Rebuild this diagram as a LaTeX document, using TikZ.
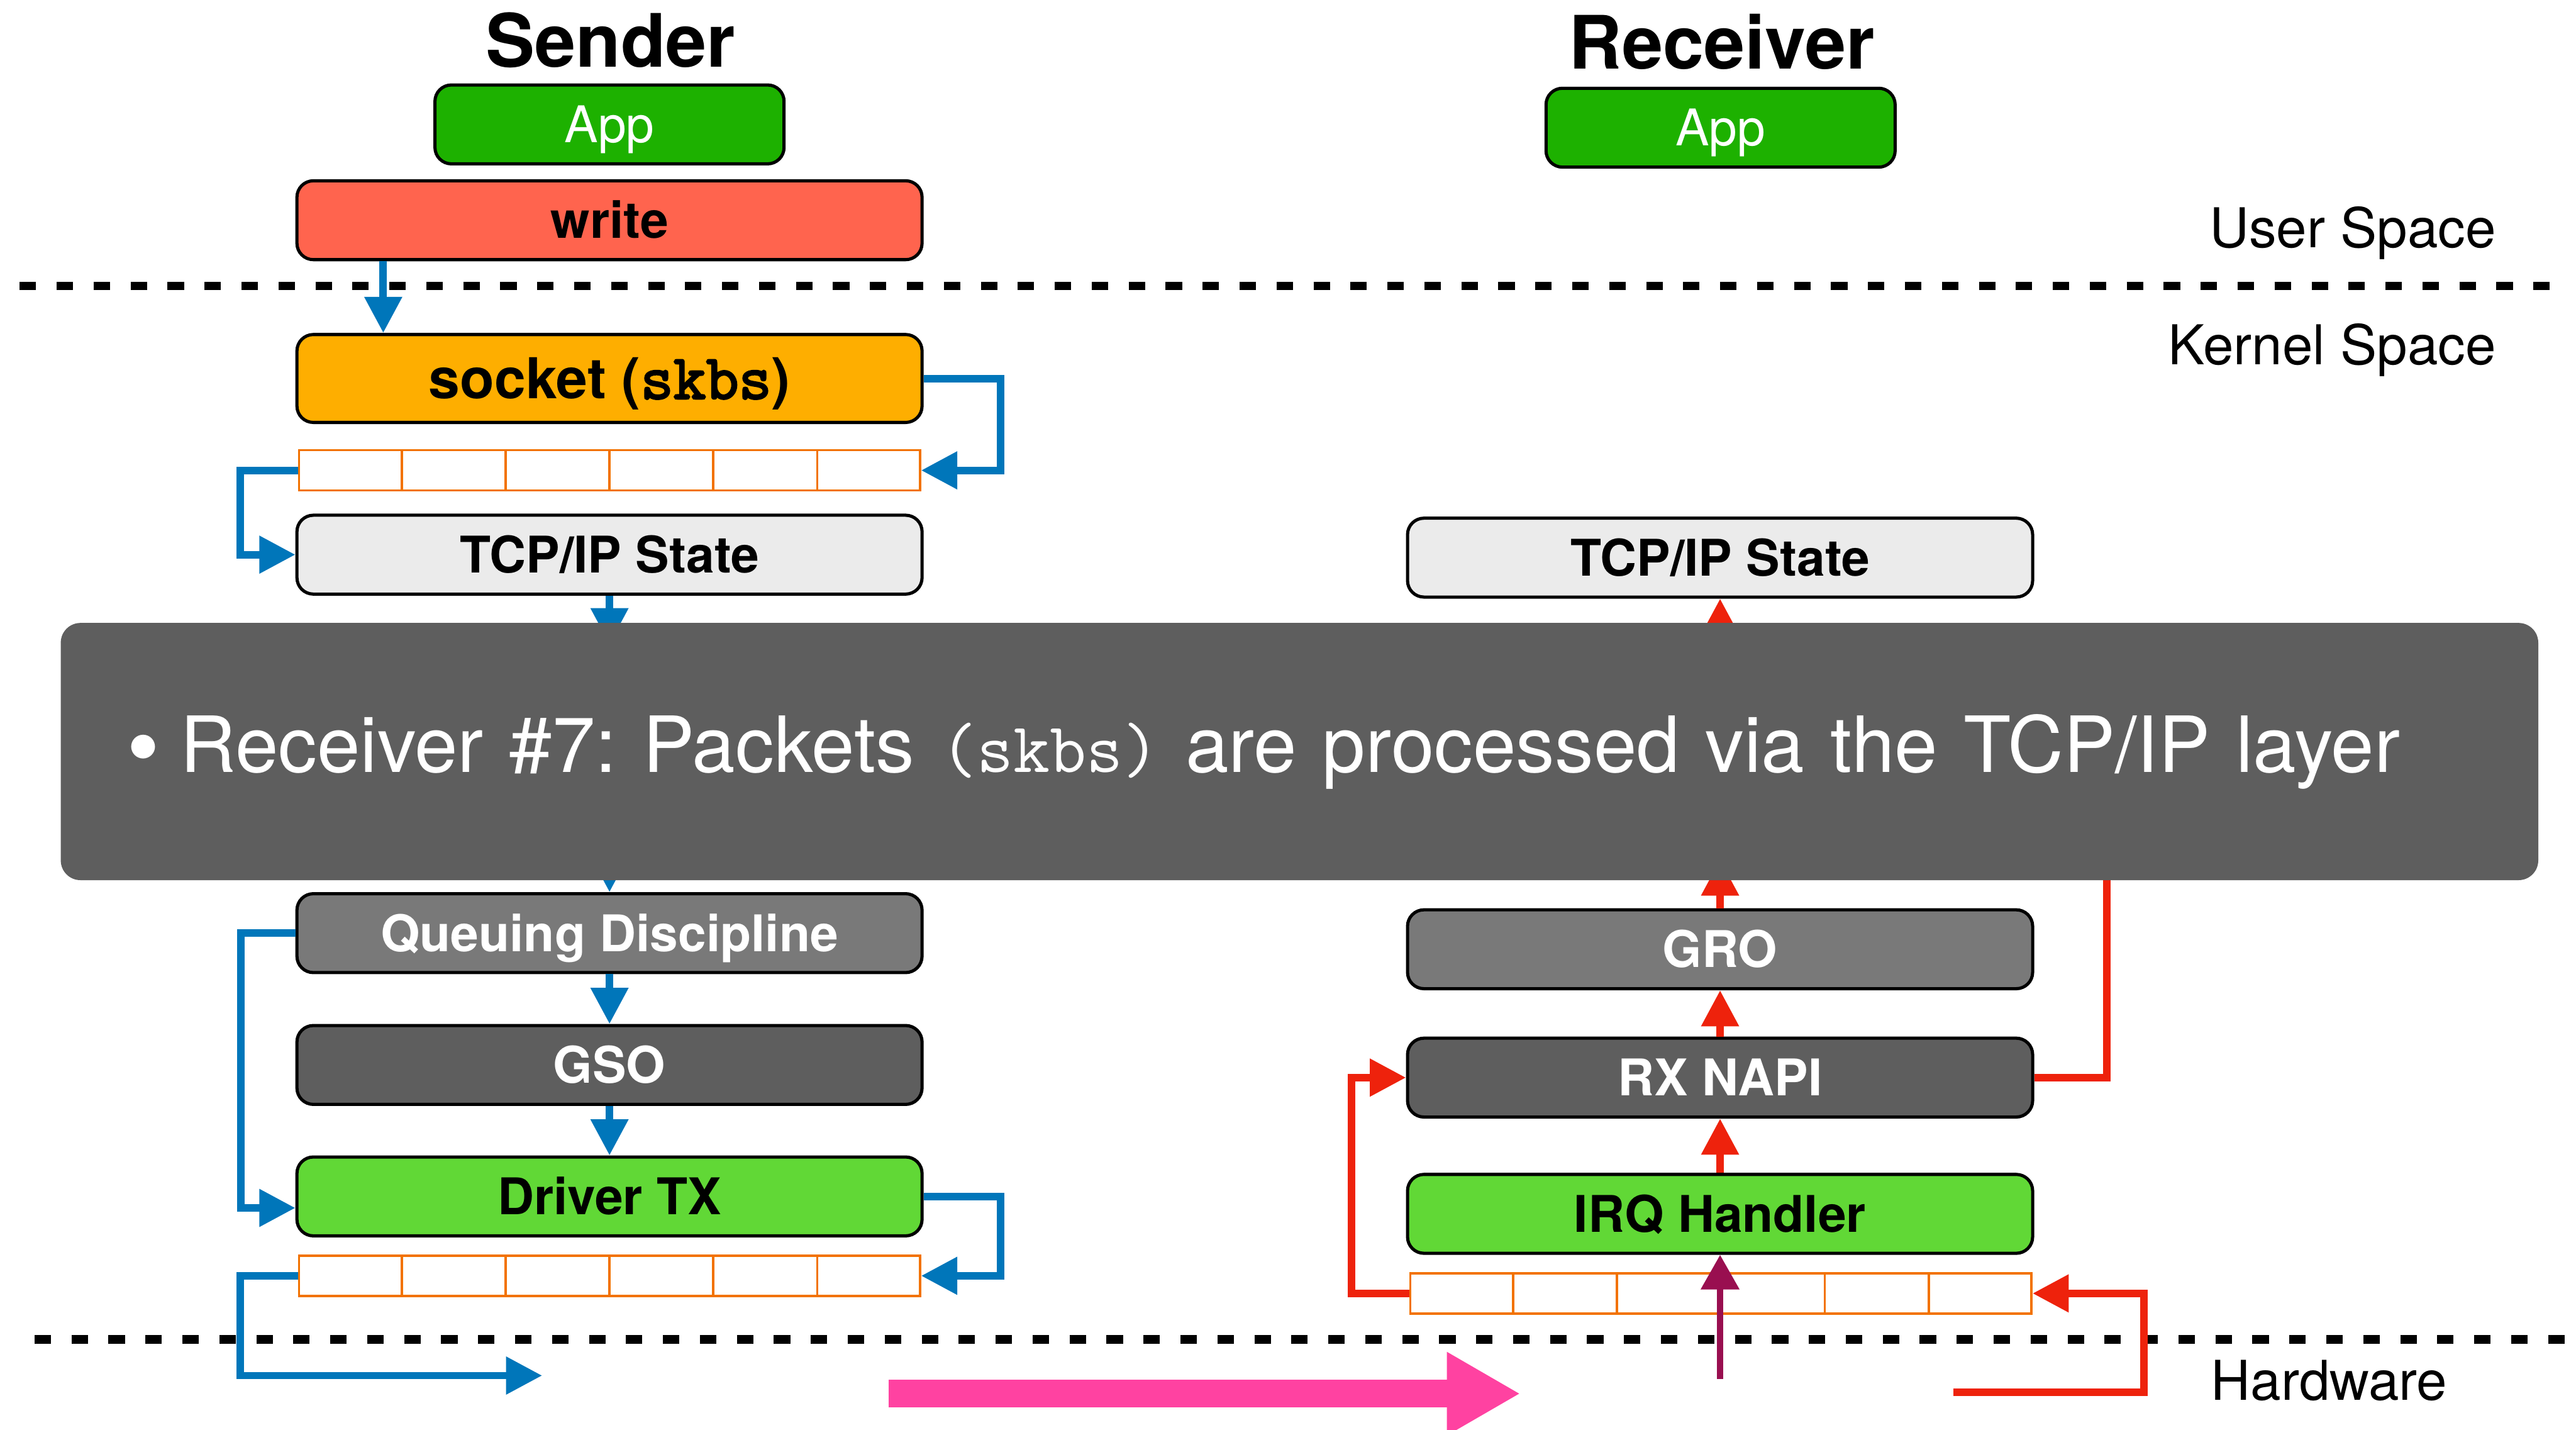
\documentclass[tikz,border=0pt]{standalone}
\usepackage{fontspec}
\setmainfont{TeX Gyre Heros}
\newfontfamily\skbbold[FakeBold=3]{Latin Modern Mono}
\usetikzlibrary{arrows.meta,calc}
\definecolor{appGreen}  {HTML}{1DB100}
\definecolor{writeRed}  {HTML}{FF644E}
\definecolor{sockOrange}{HTML}{FEAE00}
\definecolor{stateGray} {HTML}{EBEBEB}
\definecolor{midGray}   {HTML}{797979}
\definecolor{darkGray}  {HTML}{5E5E5E}
\definecolor{drvGreen}  {HTML}{61D836}
\definecolor{ringOrange}{HTML}{F27200}
\definecolor{txBlue}    {HTML}{0076BA}
\definecolor{rxRed}     {HTML}{EE220C}
\definecolor{irqPlum}   {HTML}{990F50}
\definecolor{wirePink}  {HTML}{FF42A1}
\tikzset{
  font=\fontsize{17.5}{21}\selectfont,
  stage/.style={rectangle,rounded corners=2mm,draw=black,line width=1.1pt,
    minimum width=76.1mm,minimum height=9.6mm,inner sep=0pt,align=center,
    text height=12.6pt,text depth=0pt,
    font=\bfseries\fontsize{17.5}{21}\selectfont},
  app/.style={stage,minimum width=42.5mm,fill=appGreen,text=white,
    font=\fontsize{17.5}{21}\selectfont},
  ring/.style={rectangle,draw=ringOrange,line width=0.8pt,fill=white,
    minimum width=75.6mm,minimum height=4.9mm,inner sep=0pt},
  slot/.style={draw=ringOrange,line width=0.8pt},
  txflow/.style={draw=txBlue,line width=2.6pt,-{Triangle[length=12.5pt,width=12.5pt]}},
  rxflow/.style={draw=rxRed,line width=2.6pt,-{Triangle[length=12.5pt,width=12.5pt]}},
  rxline/.style={draw=rxRed,line width=2.6pt},
  irqflow/.style={draw=irqPlum,line width=2pt,-{Triangle[length=12pt,width=13pt]}},
  wire/.style={draw=wirePink,line width=9.6pt,-{Triangle[length=25.5pt,width=27pt]}},
  layer/.style={draw=black,line width=3pt,dash pattern=on 2mm off 2.5mm},
  title/.style={font=\bfseries\fontsize{25.5}{30}\selectfont},
  region/.style={inner sep=0pt,font=\fontsize{19}{23}\selectfont},
  note/.style={rectangle,rounded corners=2.4mm,fill=darkGray,text=white,
    minimum width=301.6mm,minimum height=31.3mm,inner xsep=8mm,inner ysep=0pt,
    text width=285.6mm,align=left,font=\frenchspacing\fontsize{26.85}{32}\selectfont},
}

\begin{document}
\begin{tikzpicture}[x=0.2mm,y=-0.2mm]

\fill[white] (0,0) rectangle (1568,870);
\useasboundingbox (0,0) rectangle (1568,870);

% user / kernel / hardware boundaries
\draw[layer] (12,174) -- (1555,174);
\draw[layer] (21,815) -- (1562,815);

\node[region,anchor=base east] (user)   at (1519.6,150.5) {User Space};
\node[region,anchor=base east] (kernel) at (1519.6,222)   {Kernel Space};
\node[region,anchor=base east] (hw)     at (1490,852)     {Hardware};

% sender side
\node[title,anchor=base] (sender) at (371.7,40.6) {Sender};
\node[app] (sApp) at (371,75.7) {App};
\node[stage,fill=writeRed] (write) at (371,134) {write};
\node[stage,fill=sockOrange,minimum height=10.7mm,text height=14pt,
  font=\bfseries\fontsize{19.5}{23}\selectfont]
  (socket) at (371,230.3) {socket ({\skbbold\fontsize{22}{23}\selectfont skbs})};
\node[ring] (sRingA) at (371,286.2) {};
\node[stage,fill=stateGray] (sTcp)  at (371,337.5) {TCP/IP State};
\node[stage,fill=midGray,text=white]  (qdisc) at (371,567.8) {Queuing Discipline};
\node[stage,fill=darkGray,text=white] (gso)   at (371,648)   {GSO};
\node[stage,fill=drvGreen] (drvTx) at (371,728) {Driver TX};
\node[ring] (sRingB) at (371,776.3) {};

% receiver side
\node[title,anchor=base] (receiver) at (1048,42) {Receiver};
\node[app] (rApp) at (1047.3,77.7) {App};
\node[stage,fill=stateGray] (rTcp) at (1047,339.3) {TCP/IP State};
\node[stage,fill=midGray,text=white]  (gro)  at (1047,577.6) {GRO};
\node[stage,fill=darkGray,text=white] (napi) at (1047,655.7) {RX NAPI};
\node[stage,fill=drvGreen] (irq) at (1047,738.6) {IRQ Handler};
\node[ring] (rRing) at (1047.5,787) {};

\foreach \q in {sRingA,sRingB,rRing}
  \foreach \i in {1,...,5}
    \draw[slot] ($(\q.north west)!\i/6!(\q.north east)$) -- ($(\q.south west)!\i/6!(\q.south east)$);

\coordinate (sTcpOut) at (371,392);
\coordinate (qdiscIn) at (371,520);
\coordinate (txOut)   at (330,837);
\coordinate (wireL)   at (541,848);
\coordinate (wireR)   at (925.5,848);
\coordinate (rxIn)    at (1189,847);
\coordinate (irqSig)  at (1047,839);
\coordinate (groOut)  at (1047,523);
\coordinate (rTcpIn)  at (1047,392);
\coordinate (napiUp)  at (1282.5,500);

% transmit path
\draw[txflow] ([xshift=10.7mm]write.south west) -- ([xshift=10.7mm]socket.north west);
\draw[txflow] (socket.east) -- ++(47,0) |- (sRingA.east);
\draw[txflow] (sRingA.west) -- ++(-35,0) |- (sTcp.west);
\draw[txflow] (sTcp.south) -- (sTcpOut);
\draw[txflow] (qdiscIn) -- (qdisc.north);
\draw[txflow] (qdisc.south) -- (gso.north);
\draw[txflow] (gso.south) -- (drvTx.north);
\draw[txflow] (qdisc.west) -- ++(-33,0) |- ([yshift=-1.4mm]drvTx.west);
\draw[txflow] (drvTx.east) -- ++(47,0) |- (sRingB.east);
\draw[txflow] (sRingB.west) -- ++(-35,0) |- (txOut);

\draw[wire] (wireL) -- (wireR);

% receive path
\draw[rxflow] (rxIn) -- ++(116,0) |- (rRing.east);
\draw[irqflow] (irqSig) -- (irq.south);
\draw[rxflow] (rRing.west) -- ++(-35,0) |- (napi.west);
\draw[rxflow] (irq.north) -- (napi.south);
\draw[rxflow] (napi.north) -- (gro.south);
\draw[rxflow] (gro.north) -- (groOut);
\draw[rxflow] (rTcpIn) -- (rTcp.south);
\draw[rxline] (napi.east) -| (napiUp);

\node[note] (step) at (791,457.3)
  {\raisebox{-0.1em}{\fontsize{33}{32}\selectfont\textbullet}\hspace{7pt}Receiver \#7: Packets {\fontsize{24.6}{32}\selectfont\texttt{(skbs) }}are processed via the TCP/IP layer};

\end{tikzpicture}
\end{document}
